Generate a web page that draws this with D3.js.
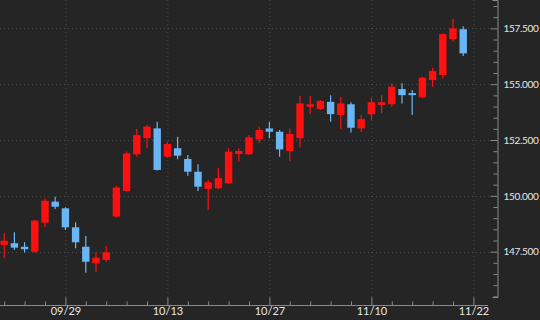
<!DOCTYPE html>
<html>
  <head>
    <script src="https://d3js.org/d3.v7.min.js"></script>
    <style>
      body { margin: 0; background: #252525; }
      svg { display: block; background: #252525; }
      .grid line { stroke: #4a4a4a; stroke-dasharray: 1,3; }
      .axis .domain, .axis line { stroke: #8a8a8a; }
      .axis text { font-family: Lato, sans-serif; font-size: 11px; fill: #e8e8e8; }
      .yaxis text { font-size: 10px; letter-spacing: -0.3px; }
    </style>
  </head>
  <body>
    <svg width="540" height="320"></svg>
    <script>
      // daily candles, index 0 = first visible bar
      const opens  = [147.80, 147.88, 147.72, 147.50, 148.80, 149.74, 149.44, 148.59, 147.72, 146.98,
                      147.13, 149.07, 150.22, 151.86, 152.58, 153.02, 151.75, 152.13, 151.65, 151.08,
                      150.31, 150.34, 150.56, 151.87, 151.86, 152.53, 153.02, 152.87, 152.01, 152.58,
                      153.99, 153.89, 154.21, 153.62, 154.10, 153.02, 153.65, 154.07, 154.10, 154.78,
                      154.60, 154.41, 155.19, 155.41, 157.02, 157.46];
      const highs  = [148.32, 148.37, 147.92, 148.92, 149.89, 149.96, 149.49, 148.82, 148.20, 147.47,
                      147.75, 150.44, 151.99, 152.99, 153.17, 153.32, 152.42, 152.65, 151.83, 151.41,
                      150.71, 151.23, 152.13, 152.13, 152.72, 153.10, 153.32, 152.95, 153.02, 154.47,
                      154.47, 154.29, 154.51, 154.44, 154.19, 153.62, 154.39, 154.51, 155.04, 155.04,
                      154.74, 155.33, 155.74, 157.28, 157.92, 157.60];
      const lows   = [147.20, 147.58, 147.46, 147.45, 148.59, 149.41, 148.47, 147.65, 146.56, 146.60,
                      147.05, 149.02, 150.19, 151.75, 152.13, 151.13, 151.71, 151.64, 150.90, 150.22,
                      149.37, 150.31, 150.52, 151.53, 151.83, 152.35, 152.58, 151.75, 151.56, 152.17,
                      153.66, 153.84, 153.32, 152.98, 152.84, 152.87, 153.40, 153.70, 153.99, 154.14,
                      153.62, 154.37, 154.89, 155.26, 156.90, 156.26];
      const closes = [147.99, 147.68, 147.61, 148.89, 149.78, 149.51, 148.59, 147.92, 147.05, 147.23,
                      147.47, 150.37, 151.90, 152.72, 153.10, 151.16, 152.32, 151.80, 151.08, 150.41,
                      150.61, 150.79, 151.98, 152.01, 152.62, 152.95, 152.87, 152.08, 152.77, 154.14,
                      154.10, 154.25, 153.66, 154.14, 153.05, 153.44, 154.19, 154.19, 154.89, 154.51,
                      154.51, 155.29, 155.59, 157.24, 157.50, 156.38];

      const xTickIndex = [6, 16, 26, 36, 46];
      const xTickLabels = ["09/29", "10/13", "10/27", "11/10", "11/22"];
      const yTicks = [147.5, 150, 152.5, 155, 157.5];

      const upColor = "#ff1010";
      const downColor = "#6ab6f5";

      const data = opens.map((o, i) => ({i, o, h: highs[i], l: lows[i], c: closes[i]}));

      const svg = d3.select("svg");
      const plotBottom = 297;
      const axisRightX = 497;
      const axisBaseY = 305;

      const x = d3.scaleLinear().domain([0, 46]).range([4.2, 473.4]);
      const y = d3.scaleLinear().domain([145.47, 158.77]).range([plotBottom, 0]);
      const bodyW = 7.4;

      // grid
      const grid = svg.append("g").attr("class", "grid");
      grid.selectAll(".gx").data(xTickIndex).join("line")
          .attr("x1", d => x(d) + 0.5).attr("x2", d => x(d) + 0.5)
          .attr("y1", 0).attr("y2", plotBottom);
      grid.selectAll(".gy").data(yTicks).join("line")
          .attr("x1", 0).attr("x2", axisRightX - 6)
          .attr("y1", d => Math.round(y(d)) + 0.5).attr("y2", d => Math.round(y(d)) + 0.5);

      // candles
      const candles = svg.append("g").selectAll("g").data(data).join("g")
          .attr("fill", d => d.c >= d.o ? upColor : downColor)
          .attr("stroke", d => d.c >= d.o ? upColor : downColor);
      candles.append("line")
          .attr("x1", d => x(d.i)).attr("x2", d => x(d.i))
          .attr("y1", d => y(d.h)).attr("y2", d => y(d.l))
          .attr("stroke-width", 1.2);
      candles.append("rect")
          .attr("stroke", "none")
          .attr("x", d => x(d.i) - bodyW / 2)
          .attr("width", bodyW)
          .attr("y", d => y(Math.max(d.o, d.c)))
          .attr("height", d => Math.max(1.5, Math.abs(y(d.o) - y(d.c))));

      // right price axis
      const yMinor = d3.range(145.5, 158.8, 0.5).filter(v => !yTicks.includes(v));
      svg.append("g")
          .attr("class", "axis")
          .attr("transform", `translate(${axisRightX + 0.5},0)`)
          .call(d3.axisRight(y).tickValues(yMinor).tickSize(-4).tickSizeOuter(-5).tickFormat(""));
      svg.append("g")
          .attr("class", "axis yaxis")
          .attr("transform", `translate(${axisRightX + 0.5},0)`)
          .call(d3.axisRight(y).tickValues(yTicks).tickSize(-7).tickPadding(6).tickFormat(d3.format(".3f")))
          .call(g => g.select(".domain").remove());

      // bottom date axis
      const xMinor = d3.range(0, 47, 2).filter(v => !xTickIndex.includes(v));
      const xAxisG = svg.append("g")
          .attr("class", "axis")
          .attr("transform", `translate(0,${axisBaseY + 0.5})`);
      xAxisG.append("g")
          .call(d3.axisBottom(x).tickValues(xMinor).tickSize(-4).tickSizeOuter(0).tickFormat(""))
          .call(g => g.select(".domain").attr("d", "M0,0H488"));
      xAxisG.append("g")
          .call(d3.axisBottom(x).tickValues(xTickIndex).tickSize(-8).tickPadding(1)
                .tickFormat((d, k) => xTickLabels[k]))
          .call(g => g.select(".domain").remove())
          .call(g => g.selectAll("text").attr("dy", "0.75em"));
    </script>
  </body>
</html>
